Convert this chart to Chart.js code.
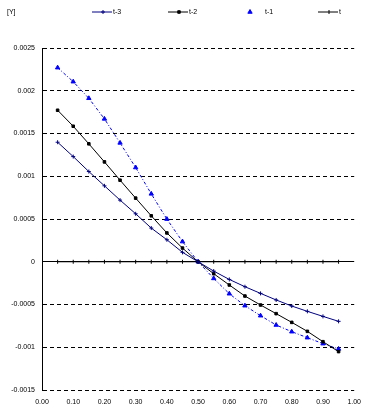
<!DOCTYPE html>
<html>
<head>
<meta charset="utf-8">
<script src="https://cdn.jsdelivr.net/npm/chart.js@4.4.1/dist/chart.umd.min.js"></script>
<style>
  html, body { margin: 0; padding: 0; background: #fff; }
  #wrap { width: 369px; height: 416px; }
</style>
</head>
<body>
<div id="wrap"><canvas id="grafico"></canvas></div>
<script>
// valores (x = 0.05 ... 0.95)
const xValores = [0.05, 0.10, 0.15, 0.20, 0.25, 0.30, 0.35, 0.40, 0.45, 0.50,
                  0.55, 0.60, 0.65, 0.70, 0.75, 0.80, 0.85, 0.90, 0.95];
const serieT3 = [0.001398, 0.001230, 0.001055, 0.000888, 0.000721, 0.000561, 0.000394, 0.000257, 0.000110, 0.0,
                 -0.000109, -0.000207, -0.000292, -0.000370, -0.000447, -0.000518, -0.000580, -0.000639, -0.000697];
const serieT2 = [0.001772, 0.001585, 0.001379, 0.001168, 0.000954, 0.000744, 0.000537, 0.000337, 0.000160, 0.0,
                 -0.000140, -0.000272, -0.000401, -0.000506, -0.000607, -0.000709, -0.000814, -0.000935, -0.001051];
const serieT1 = [0.002270, 0.002106, 0.001912, 0.001671, 0.001390, 0.001102, 0.000794, 0.000499, 0.000236, 0.0,
                 -0.000195, -0.000374, -0.000514, -0.000631, -0.000740, -0.000818, -0.000888, -0.000958, -0.001020];
const serieT = [0, 0, 0, 0, 0, 0, 0, 0, 0, 0, 0, 0, 0, 0, 0, 0, 0, 0, 0];
const nomesSeries = ['t-3', 't-2', 't-1', 't'];
const tituloY = '[Y]';

const FONTE = "'Liberation Sans', Arial, sans-serif";

function pontos(vals) {
    return xValores.map((x, i) => ({ x: x, y: vals[i] }));
}

// legenda desenhada à mão, numa linha só, como no original
const legendaManual = {
    id: 'legendaManual',
    afterDraw(chart) {
        const ctx = chart.ctx;
        const posicoes = [92, 168, 244, 318];
        const yLeg = 12;
        ctx.save();
        ctx.font = '7px ' + FONTE;
        ctx.fillStyle = '#000';
        ctx.textBaseline = 'middle';
        ctx.fillText(tituloY, 7, yLeg);
        chart.data.datasets.forEach((ds, i) => {
            const x0 = posicoes[i];
            ctx.strokeStyle = ds.borderColor;
            ctx.fillStyle = ds.backgroundColor;
            ctx.lineWidth = 1;
            ctx.setLineDash([]);
            if (ds.legendaLinha) {
                ctx.beginPath();
                ctx.moveTo(x0, yLeg);
                ctx.lineTo(x0 + 20, yLeg);
                ctx.stroke();
            }
            Chart.helpers.drawPoint(ctx, {
                pointStyle: ds.pointStyle,
                rotation: ds.pointRotation || 0,
                radius: ds.pointRadius,
                borderWidth: 1
            }, x0 + (ds.legendaLinha ? 11 : 6), yLeg);
            ctx.fillStyle = '#000';
            ctx.fillText(ds.label, x0 + 21, yLeg);
        });
        ctx.restore();
    }
};

const ctxGrafico = document.getElementById('grafico').getContext('2d');

new Chart(ctxGrafico, {
    type: 'line',
    data: {
        datasets: [
            {
                label: nomesSeries[0],
                data: pontos(serieT3),
                borderColor: '#000080',
                backgroundColor: '#000080',
                borderWidth: 1,
                pointStyle: 'cross',
                pointRadius: 2,
                pointBorderWidth: 1,
                legendaLinha: true
            },
            {
                label: nomesSeries[1],
                data: pontos(serieT2),
                borderColor: '#000000',
                backgroundColor: '#000000',
                borderWidth: 1,
                pointStyle: 'rect',
                pointRadius: 1.8,
                pointBorderWidth: 1,
                legendaLinha: true
            },
            {
                label: nomesSeries[2],
                data: pontos(serieT1),
                borderColor: '#0000ff',
                backgroundColor: '#0000ff',
                borderWidth: 1,
                borderDash: [3, 2, 1, 2],
                pointStyle: 'triangle',
                pointRadius: 2.5,
                pointBorderWidth: 1,
                legendaLinha: false
            },
            {
                label: nomesSeries[3],
                data: pontos(serieT),
                borderColor: '#000000',
                backgroundColor: '#000000',
                borderWidth: 1,
                pointStyle: 'line',
                pointRotation: 90,
                pointRadius: 2,
                pointBorderWidth: 1,
                legendaLinha: true
            }
        ]
    },
    options: {
        responsive: true,
        maintainAspectRatio: false,
        animation: false,
        layout: { padding: { top: 48, right: 12, left: 0, bottom: 0 } },
        elements: { line: { tension: 0 } },
        plugins: {
            legend: { display: false },
            tooltip: { enabled: false }
        },
        scales: {
            x: {
                type: 'linear',
                min: 0,
                max: 1,
                afterFit: s => { s.height = 26; },
                ticks: {
                    stepSize: 0.1,
                    padding: 8,
                    color: '#000',
                    font: { family: FONTE, size: 7 },
                    maxRotation: 0,
                    callback: v => Number(v).toFixed(2)
                },
                grid: { display: false, drawTicks: false },
                border: { display: false }
            },
            y: {
                min: -0.0015,
                max: 0.0025,
                afterFit: s => { s.width = 42; },
                ticks: {
                    stepSize: 0.0005,
                    padding: 7,
                    color: '#000',
                    font: { family: FONTE, size: 7 },
                    callback: v => String(parseFloat(Number(v).toFixed(4)))
                },
                grid: {
                    color: '#000',
                    lineWidth: 1,
                    drawTicks: false
                },
                border: {
                    display: true,
                    color: '#000',
                    width: 1,
                    dash: c => (c.tick ? (Math.abs(c.tick.value) < 1e-9 ? [] : [4, 3]) : [])
                }
            }
        }
    },
    plugins: [legendaManual]
});
</script>
</body>
</html>
